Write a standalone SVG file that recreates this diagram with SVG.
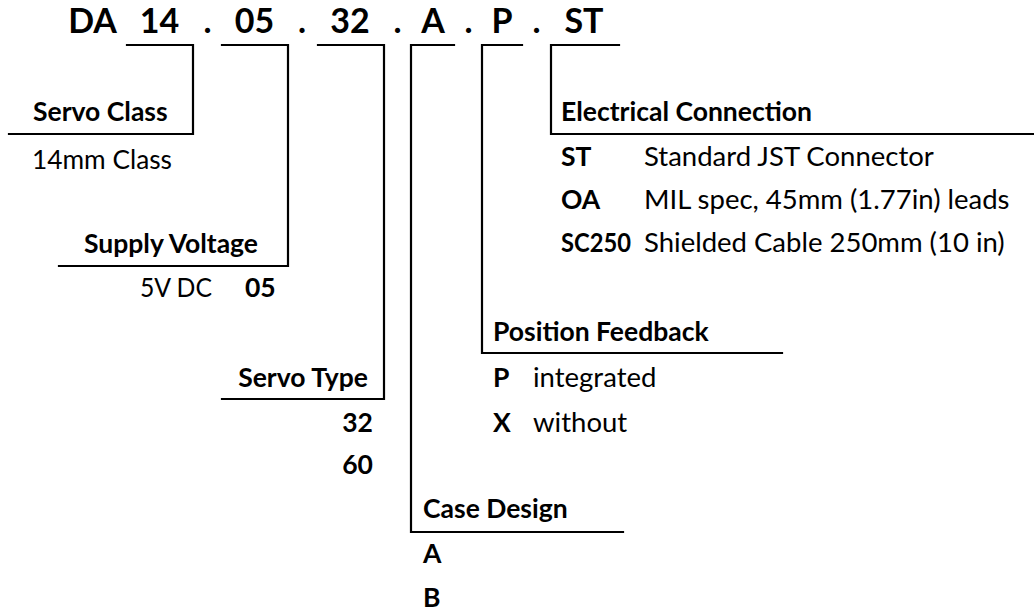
<svg xmlns="http://www.w3.org/2000/svg" width="1034" height="611" viewBox="0 0 1034 611">
<style>
text{font-family:Lato,"Noto Sans",sans-serif;fill:#000;font-size:27.5px}
.b{font-weight:bold;font-size:26.5px}
.t{font-weight:bold;font-size:34px;text-anchor:middle}
.l{fill:none;stroke:#000;stroke-width:2.2;stroke-linecap:square}
</style>
<rect width="1034" height="611" fill="#fff"/>
<g id="title">
<text class="t" x="92.5" y="33">DA</text>
<text class="t" x="159.5" y="33">14</text>
<text class="t" x="207.5" y="33">.</text>
<text class="t" x="254.5" y="33">05</text>
<text class="t" x="302" y="33">.</text>
<text class="t" x="350" y="33">32</text>
<text class="t" x="397.5" y="33">.</text>
<text class="t" x="433" y="33">A</text>
<text class="t" x="468.5" y="33">.</text>
<text class="t" x="502" y="33">P</text>
<text class="t" x="536.5" y="33">.</text>
<text class="t" x="584" y="33">ST</text>
</g>
<g id="connectors">
<polyline class="l" points="127,45 193,45 193,134 9,134"/>
<polyline class="l" points="222,45 288,45 288,266 59,266"/>
<polyline class="l" points="318,45 384,45 384,399 222,399"/>
<polyline class="l" points="454,45 411,45 411,532 623,532"/>
<polyline class="l" points="522,45 482,45 482,353 782,353"/>
<polyline class="l" points="619,45 551,45 551,134 1034,134"/>
</g>
<g id="servo-class">
<text class="b" x="33" y="121">Servo Class</text>
<text x="32" y="169" textLength="140" lengthAdjust="spacingAndGlyphs">14mm Class</text>
</g>
<g id="supply-voltage">
<text class="b" x="84" y="253">Supply Voltage</text>
<text x="140" y="297" textLength="72" lengthAdjust="spacingAndGlyphs">5V DC</text>
<text class="b" x="245" y="297">05</text>
</g>
<g id="servo-type">
<text class="b" x="368" y="387" text-anchor="end">Servo Type</text>
<text class="b" x="373" y="432" text-anchor="end">32</text>
<text class="b" x="373" y="474" text-anchor="end">60</text>
</g>
<g id="case-design">
<text class="b" x="423" y="518">Case Design</text>
<text class="b" x="423" y="563">A</text>
<text class="b" x="423" y="607">B</text>
</g>
<g id="position-feedback">
<text class="b" x="493" y="341">Position Feedback</text>
<text class="b" x="493" y="387">P</text>
<text x="533" y="387">integrated</text>
<text class="b" x="493" y="432">X</text>
<text x="533" y="432">without</text>
</g>
<g id="electrical-connection">
<text class="b" x="561" y="121">Electrical Connection</text>
<text class="b" x="561" y="166">ST</text>
<text x="644" y="166">Standard JST Connector</text>
<text class="b" x="561" y="209">OA</text>
<text x="644" y="209">MIL spec, 45mm (1.77in) leads</text>
<text class="b" x="561" y="252" textLength="70" lengthAdjust="spacingAndGlyphs">SC250</text>
<text x="644" y="252">Shielded Cable 250mm (10 in)</text>
</g>
</svg>
